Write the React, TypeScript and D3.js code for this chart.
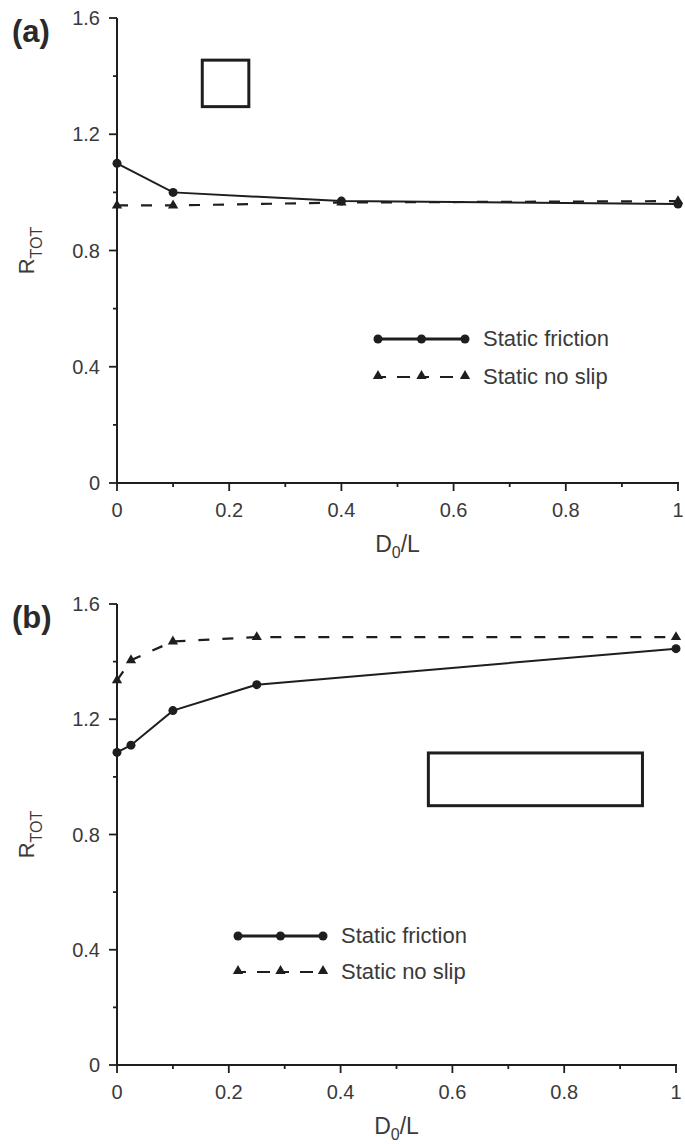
import React, { useEffect, useRef } from "react";
import * as d3 from "d3";

// D0/L positions sampled in each study
const xA = [0, 0.1, 0.4, 1];
const frictionA = [1.1, 1.0, 0.97, 0.96];
const noSlipA = [0.955, 0.955, 0.965, 0.97];

const xB = [0, 0.025, 0.1, 0.25, 1];
const frictionB = [1.085, 1.11, 1.23, 1.32, 1.445];
const noSlipB = [1.335, 1.405, 1.47, 1.485, 1.485];

const yMajor = [0, 0.4, 0.8, 1.2, 1.6];
const yMinor = [0.2, 0.6, 1.0, 1.4];
const xMajor = [0, 0.2, 0.4, 0.6, 0.8, 1];
const xMinor = [0.1, 0.3, 0.5, 0.7, 0.9];
const xTickLabels = ["0", "0.2", "0.4", "0.6", "0.8", "1"];
const yTickLabels = ["0", "0.4", "0.8", "1.2", "1.6"];
const seriesNames = ["Static friction", "Static no slip"];

const W = 685;
const H = 1144;
const INK = "#1e1e1e";
const TEXT = "#3a3a3a";
const FONT = "'Liberation Sans', Arial, Helvetica, sans-serif";

interface PanelCfg {
  label: string;
  top: number;
  bottom: number;
  left: number;
  right: number;
  xs: number[];
  friction: number[];
  noSlip: number[];
  legend: { x0: number; x1: number; y: number; gap: number };
  shape: { x0: number; x1: number; y0: number; y1: number };
}

const panels: PanelCfg[] = [
  {
    label: "(a)",
    top: 18,
    bottom: 483,
    left: 117,
    right: 678,
    xs: xA,
    friction: frictionA,
    noSlip: noSlipA,
    legend: { x0: 378, x1: 465, y: 339, gap: 38 },
    shape: { x0: 0.152, x1: 0.235, y0: 1.295, y1: 1.455 },
  },
  {
    label: "(b)",
    top: 604,
    bottom: 1065,
    left: 117,
    right: 676,
    xs: xB,
    friction: frictionB,
    noSlip: noSlipB,
    legend: { x0: 238, x1: 323, y: 936, gap: 36 },
    shape: { x0: 0.557, x1: 0.94, y0: 0.9, y1: 1.083 },
  },
];

function drawPanel(g: d3.Selection<SVGGElement, unknown, null, undefined>, p: PanelCfg) {
  const x = d3.scaleLinear().domain([0, 1]).range([p.left, p.right]);
  const y = d3.scaleLinear().domain([0, 1.6]).range([p.bottom, p.top]);

  // axes lines
  g.append("line")
    .attr("x1", x(0)).attr("x2", x(0)).attr("y1", y(1.6)).attr("y2", y(0))
    .attr("stroke", INK).attr("stroke-width", 2);
  g.append("line")
    .attr("x1", x(0) - 1).attr("x2", x(1) + 1).attr("y1", y(0)).attr("y2", y(0))
    .attr("stroke", INK).attr("stroke-width", 2);

  // y ticks
  yMajor.forEach((v, i) => {
    g.append("line")
      .attr("x1", x(0) - 8).attr("x2", x(0)).attr("y1", y(v)).attr("y2", y(v))
      .attr("stroke", INK).attr("stroke-width", 1.8);
    g.append("text")
      .attr("x", x(0) - 17).attr("y", y(v) + 7)
      .attr("text-anchor", "end")
      .attr("font-family", FONT).attr("font-size", 20)
      .attr("fill", TEXT)
      .text(yTickLabels[i]);
  });
  yMinor.forEach((v) => {
    g.append("line")
      .attr("x1", x(0) - 4).attr("x2", x(0)).attr("y1", y(v)).attr("y2", y(v))
      .attr("stroke", INK).attr("stroke-width", 1.8);
  });

  // x ticks
  xMajor.forEach((v, i) => {
    g.append("line")
      .attr("x1", x(v)).attr("x2", x(v)).attr("y1", y(0)).attr("y2", y(0) + 8)
      .attr("stroke", INK).attr("stroke-width", 1.8);
    g.append("text")
      .attr("x", x(v)).attr("y", y(0) + 34)
      .attr("text-anchor", "middle")
      .attr("font-family", FONT).attr("font-size", 20)
      .attr("fill", TEXT)
      .text(xTickLabels[i]);
  });
  xMinor.forEach((v) => {
    g.append("line")
      .attr("x1", x(v)).attr("x2", x(v)).attr("y1", y(0)).attr("y2", y(0) + 4)
      .attr("stroke", INK).attr("stroke-width", 1.8);
  });

  // axis titles
  const xt = g.append("text")
    .attr("x", (x(0) + x(1)) / 2).attr("y", y(0) + 69)
    .attr("text-anchor", "middle")
    .attr("font-family", FONT).attr("font-size", 23)
    .attr("fill", TEXT);
  xt.append("tspan").text("D");
  xt.append("tspan").attr("font-size", 16).attr("dy", 6).text("0");
  xt.append("tspan").attr("dy", -6).text("/L");

  const cy = (p.top + p.bottom) / 2;
  const yt = g.append("text")
    .attr("transform", `translate(${34},${cy}) rotate(-90)`)
    .attr("text-anchor", "middle")
    .attr("font-family", FONT).attr("font-size", 22)
    .attr("fill", TEXT);
  yt.append("tspan").text("R");
  yt.append("tspan").attr("font-size", 16).attr("dy", 8).text("TOT");

  // panel letter
  g.append("text")
    .attr("x", 12).attr("y", p.top + 24)
    .attr("font-family", FONT).attr("font-size", 31).attr("font-weight", "bold")
    .attr("fill", "#2a2a2a")
    .text(p.label);

  // outline of the cross-section shape
  g.append("rect")
    .attr("x", x(p.shape.x0)).attr("y", y(p.shape.y1))
    .attr("width", x(p.shape.x1) - x(p.shape.x0))
    .attr("height", y(p.shape.y0) - y(p.shape.y1))
    .attr("fill", "none").attr("stroke", INK).attr("stroke-width", 3);

  const line = d3.line<[number, number]>().x((d) => x(d[0])).y((d) => y(d[1]));
  const tri = d3.symbol().type(d3.symbolTriangle).size(46);

  // no-slip series: dashed with triangles
  const ns: [number, number][] = p.xs.map((v, i) => [v, p.noSlip[i]]);
  g.append("path")
    .attr("d", line(ns) as string)
    .attr("fill", "none").attr("stroke", INK).attr("stroke-width", 2.2)
    .attr("stroke-dasharray", "11,13");
  ns.forEach((d) => {
    g.append("path")
      .attr("d", tri() as string)
      .attr("transform", `translate(${x(d[0])},${y(d[1])})`)
      .attr("fill", INK);
  });

  // friction series: solid with dots
  const fr: [number, number][] = p.xs.map((v, i) => [v, p.friction[i]]);
  g.append("path")
    .attr("d", line(fr) as string)
    .attr("fill", "none").attr("stroke", INK).attr("stroke-width", 2);
  fr.forEach((d) => {
    g.append("circle")
      .attr("cx", x(d[0])).attr("cy", y(d[1])).attr("r", 4.5)
      .attr("fill", INK);
  });

  // legend
  const L = p.legend;
  const lx = [L.x0, (L.x0 + L.x1) / 2, L.x1];
  g.append("line")
    .attr("x1", L.x0).attr("x2", L.x1).attr("y1", L.y).attr("y2", L.y)
    .attr("stroke", INK).attr("stroke-width", 3);
  lx.forEach((v) => {
    g.append("circle").attr("cx", v).attr("cy", L.y).attr("r", 4.5).attr("fill", INK);
  });
  g.append("text")
    .attr("x", L.x1 + 18).attr("y", L.y + 7)
    .attr("font-family", FONT).attr("font-size", 22).attr("fill", TEXT)
    .text(seriesNames[0]);

  const ly = L.y + L.gap;
  g.append("line")
    .attr("x1", L.x0).attr("x2", L.x1).attr("y1", ly).attr("y2", ly)
    .attr("stroke", INK).attr("stroke-width", 2.2)
    .attr("stroke-dasharray", "8,11,13,11");
  lx.forEach((v) => {
    g.append("path")
      .attr("d", tri() as string)
      .attr("transform", `translate(${v},${ly - 1})`)
      .attr("fill", INK);
  });
  g.append("text")
    .attr("x", L.x1 + 18).attr("y", ly + 7)
    .attr("font-family", FONT).attr("font-size", 22).attr("fill", TEXT)
    .text(seriesNames[1]);
}

export default function App() {
  const ref = useRef<SVGSVGElement>(null);

  useEffect(() => {
    if (!ref.current) return;
    const svg = d3.select(ref.current);
    svg.selectAll("*").remove();
    panels.forEach((p) => {
      const g = svg.append("g");
      drawPanel(g, p);
    });
  }, []);

  return (
    <svg
      ref={ref}
      width={W}
      height={H}
      viewBox={`0 0 ${W} ${H}`}
      style={{ position: "absolute", left: 0, top: 0, background: "#fff" }}
    />
  );
}
